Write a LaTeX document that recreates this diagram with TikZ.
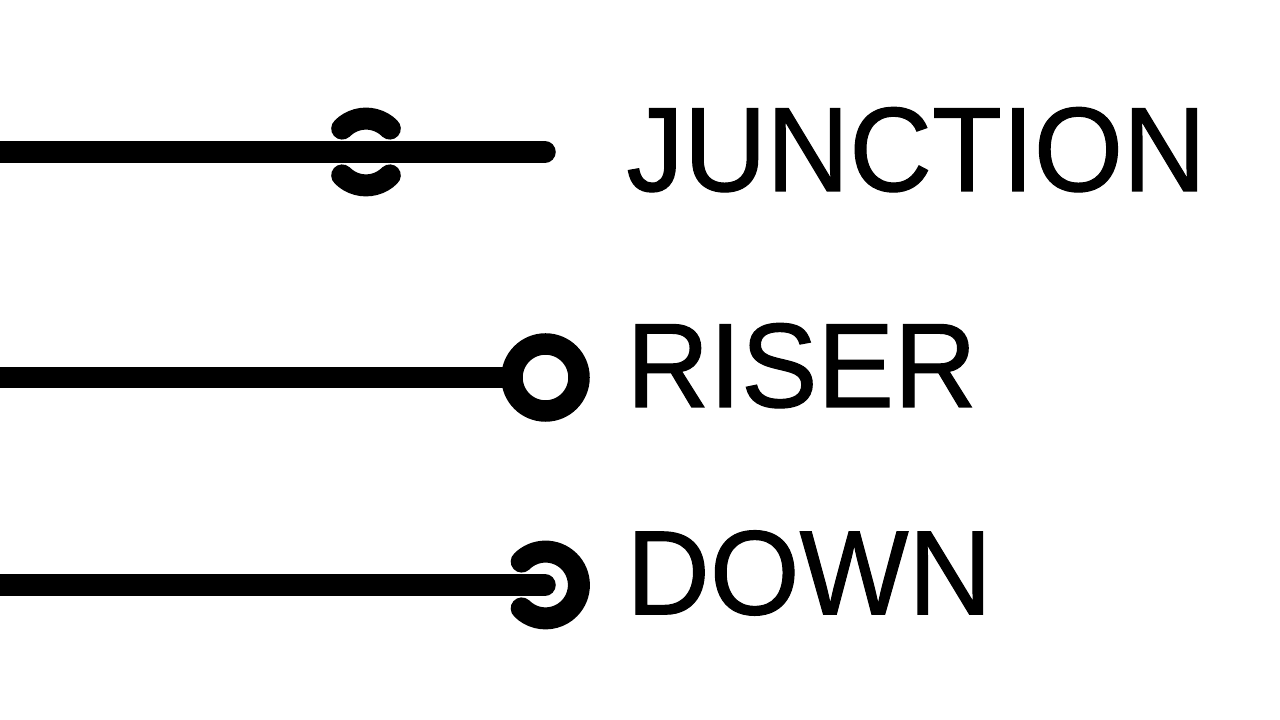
\documentclass[tikz,border=0pt]{standalone}
\usepackage{fontspec}
\setmainfont{Liberation Sans}
\newcommand{\heavytext}[1]{\special{pdf:code 2 Tr 1.1 w}#1\special{pdf:code 0 Tr}}
\tikzset{
  wire/.style={line width=21.5pt,draw=black,line cap=round},
  plainwire/.style={line width=21.5pt,draw=black,line cap=butt},
  ringline/.style={line width=21.5pt,draw=black},
  arcline/.style={line width=22pt,draw=black,line cap=round},
  lbl/.style={anchor=base west,inner sep=0pt,outer sep=0pt,text=black,xscale=.955,transform shape,font=\fontsize{120}{120}\selectfont}
}
\begin{document}
\begin{tikzpicture}[x=1pt,y=1pt]
\useasboundingbox (0,0) rectangle (1280,720);
\clip (0,0) rectangle (1280,720);
\coordinate (jstart) at (-20,568);
\coordinate (jend) at (545,568);
\coordinate (rstart) at (0,342.5);
\coordinate (rc) at (545.5,342.5);
\coordinate (dstart) at (-20,135);
\coordinate (dend) at (545,135);
% junction crossover arcs
\draw[arcline] (366,568) ++(135.5:33.4pt) arc[start angle=135.5,end angle=44.5,radius=33.4pt];
\draw[arcline] (366,568) ++(-135.5:33.4pt) arc[start angle=-135.5,end angle=-44.5,radius=33.4pt];
\draw[wire] (jstart) -- (jend);
% riser
\draw[plainwire] (rstart) -- (rc);
\draw[ringline,fill=white] (rc) circle[radius=33.5pt];
% down
\draw[arcline] (545.5,135) ++(135.5:33.4pt) arc[start angle=135.5,end angle=-135.5,radius=33.4pt];
\draw[wire] (dstart) -- (dend);
% labels
\node[lbl] (jlabel) at (626.5,529) {\heavytext{JUNCTION}};
\node[lbl] (rlabel) at (626.5,313) {\heavytext{RISER}};
\node[lbl,xscale=1.007] (dlabel) at (626.5,105.7) {\heavytext{DOWN}};
\end{tikzpicture}
\end{document}
